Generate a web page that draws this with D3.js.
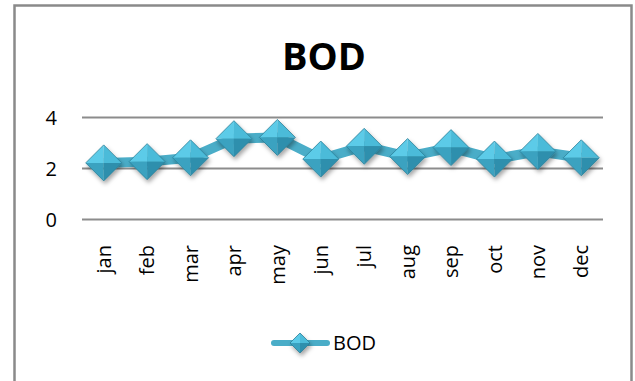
<!DOCTYPE html>
<html>
<head>
<meta charset="utf-8">
<script src="https://cdn.jsdelivr.net/npm/d3@7"></script>
<style>
  html, body { margin: 0; padding: 0; background: #fff; }
  svg { display: block; }
  text { font-family: "Open Sans", "Noto Sans", sans-serif; fill: #000; }
</style>
</head>
<body>
<svg id="chart" width="635" height="381"></svg>
<script>
var months = ['jan', 'feb', 'mar', 'apr', 'may', 'jun', 'jul', 'aug', 'sep', 'oct', 'nov', 'dec'];
var bodValues = [2.2, 2.25, 2.4, 3.15, 3.2, 2.35, 2.85, 2.45, 2.8, 2.35, 2.65, 2.4];
var yTicks = [0, 2, 4];
var seriesName = 'BOD';

var svg = d3.select('#chart')
  , x = d3.scaleBand().domain(months).range([82, 603])
  , y = d3.scaleLinear().domain([0, 4]).range([219, 117])
  , lineColor = '#4aadc8';

// chart frame
svg.append('rect')
  .attr('x', 14.5).attr('y', 5.5)
  .attr('width', 617).attr('height', 400)
  .style('fill', '#fff')
  .style('stroke', '#8a8a8a')
  .style('stroke-width', 2.5);

var defs = svg.append('defs');
defs.append('filter')
    .attr('id', 'shadow')
    .attr('x', '-50%').attr('y', '-50%')
    .attr('width', '200%').attr('height', '200%')
  .append('feDropShadow')
    .attr('dx', 1.5).attr('dy', 3)
    .attr('stdDeviation', 2)
    .attr('flood-color', '#000')
    .attr('flood-opacity', 0.35);

// title
svg.append('text')
  .attr('x', 324).attr('y', 70)
  .attr('text-anchor', 'middle')
  .style('font-size', '38px')
  .style('font-weight', 'bold')
  .text(seriesName);

// y axis + gridlines
var yAxis = d3.axisLeft(y)
  .tickValues(yTicks)
  .tickSize(-(603 - 82))
  .tickPadding(25)
  .tickFormat(d3.format('d'));

var gy = svg.append('g')
  .attr('transform', 'translate(82,0)')
  .call(yAxis);
gy.select('.domain').remove();
gy.selectAll('.tick line')
  .style('stroke', '#8c8c8c')
  .style('stroke-width', 2);
gy.selectAll('.tick text')
  .attr('x', -25)
  .attr('dy', '0.36em')
  .style('font-size', '20px')
  .style('font-family', '"Open Sans", sans-serif');

// x axis labels, rotated
var xAxis = d3.axisBottom(x).tickSize(0).tickPadding(0);
var gx = svg.append('g')
  .attr('transform', 'translate(0,' + y(0) + ')')
  .call(xAxis);
gx.select('.domain').remove();
gx.selectAll('.tick text')
  .attr('transform', 'rotate(-90)')
  .attr('x', -26)
  .attr('y', 0)
  .attr('dy', '0.36em')
  .attr('text-anchor', 'end')
  .style('font-size', '20px')
  .style('font-family', '"Open Sans", sans-serif');

function cx(d, i) { return x(months[i]) + x.bandwidth() / 2; }

// series line
var line = d3.line()
  .x(function(d, i) { return cx(d, i); })
  .y(function(d) { return y(d); });

svg.append('path')
  .datum(bodValues)
  .attr('d', line)
  .style('fill', 'none')
  .style('stroke', lineColor)
  .style('stroke-width', 10)
  .style('stroke-linejoin', 'round');

// diamond markers with four shaded facets
var facets = [
  { pts: [[0, 0], [-1, 0], [0, -1]], fill: '#5ccbe8' },
  { pts: [[0, 0], [0, -1], [1, 0]], fill: '#4bbbd9' },
  { pts: [[0, 0], [-1, 0], [0, 1]], fill: '#3aa2c0' },
  { pts: [[0, 0], [1, 0], [0, 1]], fill: '#2f8fad' }
];

function drawDiamond(g, r) {
  g.selectAll('path.facet')
    .data(facets)
    .enter().append('path')
      .attr('class', 'facet')
      .attr('d', function(f) {
        return 'M' + f.pts.map(function(p) { return [p[0] * r, p[1] * r]; }).join('L') + 'Z';
      })
      .style('fill', function(f) { return f.fill; });
  g.append('path')
    .attr('d', 'M' + (-r) + ',0L0,' + (-r) + 'L' + r + ',0L0,' + r + 'Z')
    .style('fill', 'none')
    .style('stroke', '#2b7f98')
    .style('stroke-width', 0.8);
}

svg.selectAll('g.marker')
  .data(bodValues)
  .enter().append('g')
    .attr('class', 'marker')
    .attr('filter', 'url(#shadow)')
    .attr('transform', function(d, i) { return 'translate(' + cx(d, i) + ',' + y(d) + ')'; })
    .each(function() { drawDiamond(d3.select(this), 18); });

// legend
var legend = svg.append('g').attr('transform', 'translate(0,343)');
legend.append('line')
  .attr('x1', 274).attr('x2', 327)
  .attr('y1', 0).attr('y2', 0)
  .style('stroke', lineColor)
  .style('stroke-width', 6)
  .style('stroke-linecap', 'round');
var lm = legend.append('g')
  .attr('filter', 'url(#shadow)')
  .attr('transform', 'translate(300,0)');
drawDiamond(lm, 10);
legend.append('text')
  .attr('x', 333).attr('y', 0)
  .attr('dy', '0.36em')
  .style('font-size', '20px')
  .text(seriesName);
</script>
</body>
</html>
